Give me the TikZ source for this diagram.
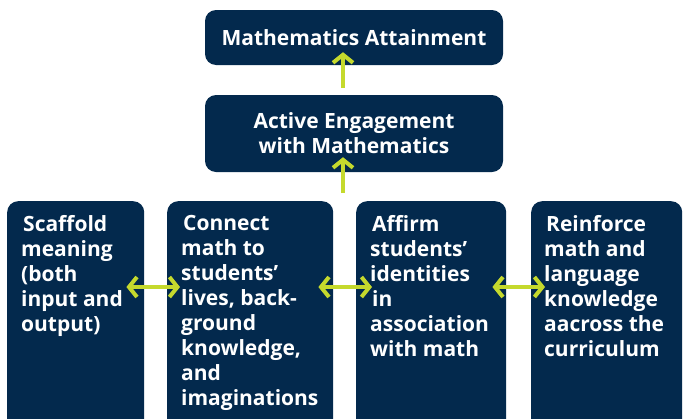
\documentclass[tikz,border=0pt]{standalone}
\usepackage{fontspec}
\setmainfont{Open Sans}
\usepackage{xcolor}
\usepackage{tikz}
\usetikzlibrary{positioning,arrows.meta}
\definecolor{navy}{RGB}{3,41,77}
\definecolor{lime}{RGB}{197,217,45}
\tikzset{
  card/.style={fill=navy, rounded corners=11pt, inner sep=0pt},
  headbox/.style={card, text=white, align=center, font=\fontsize{21}{25}\selectfont\bfseries},
  cardtext/.style={text=white, align=left, anchor=north west, inner sep=0pt, font=\fontsize{21}{25}\selectfont\bfseries},
  barb/.tip={Straight Barb[length=8pt,width=20pt]},
  link/.style={lime, line width=4pt, barb-barb},
  uplink/.style={lime, line width=4pt, -barb},
}
\begin{document}
\begin{tikzpicture}[x=1pt,y=-1pt]
\useasboundingbox (0,0) rectangle (683,418);
% Top: outcome and engagement
\node[headbox, minimum width=298pt, minimum height=55pt] (attain) at (354,37.5) {Mathematics Attainment};
\node[headbox, minimum width=298pt, minimum height=77pt] (engage) at (354,133.5) {Active Engagement\\with Mathematics};
% Bottom: four practices (run off the lower edge)
\node[card, minimum width=137pt, minimum height=240pt, anchor=north west] (scaffold) at (7,201) {};
\node[card, minimum width=166pt, minimum height=240pt, anchor=north west] (connect) at (167,201) {};
\node[card, minimum width=150pt, minimum height=240pt, anchor=north west] (affirm) at (356,201) {};
\node[card, minimum width=151pt, minimum height=240pt, anchor=north west] (reinforce) at (531,201) {};
\node[cardtext] (scaffoldtxt) at ([xshift=14pt,yshift=-14pt]scaffold.north west) {\hspace*{2pt}Scaffold\\meaning\\(both\\input and\\output)};
\node[cardtext] (connecttxt) at ([xshift=14pt,yshift=-14pt]connect.north west) {\hspace*{2pt}Connect\\math to\\students’\\lives, back-\\ground\\knowledge,\\and\\imaginations};
\node[cardtext] (affirmtxt) at ([xshift=14pt,yshift=-14pt]affirm.north west) {\hspace*{2pt}Affirm\\students’\\identities\\\hspace*{2pt}in\\association\\with math};
\node[cardtext] (reinforcetxt) at ([xshift=13pt,yshift=-14pt]reinforce.north west) {\hspace*{2pt}Reinforce\\math and\\language\\knowledge\\aacross the\\curriculum};
% Arrows
\draw[uplink] ([xshift=-11pt,yshift=7pt]engage.north) -- ([xshift=-11pt,yshift=13pt]attain.south);
\draw[uplink] ([xshift=-11pt,yshift=-21pt]engage.south) -- ([xshift=-11pt,yshift=15pt]engage.south);
\draw[link] ([xshift=-18pt,yshift=-86pt]scaffold.north east) -- ([xshift=13pt,yshift=-86pt]connect.north west);
\draw[link] ([xshift=-15pt,yshift=-86pt]connect.north east) -- ([xshift=16pt,yshift=-86pt]affirm.north west);
\draw[link] ([xshift=-14pt,yshift=-86pt]affirm.north east) -- ([xshift=14pt,yshift=-86pt]reinforce.north west);
\end{tikzpicture}
\end{document}
